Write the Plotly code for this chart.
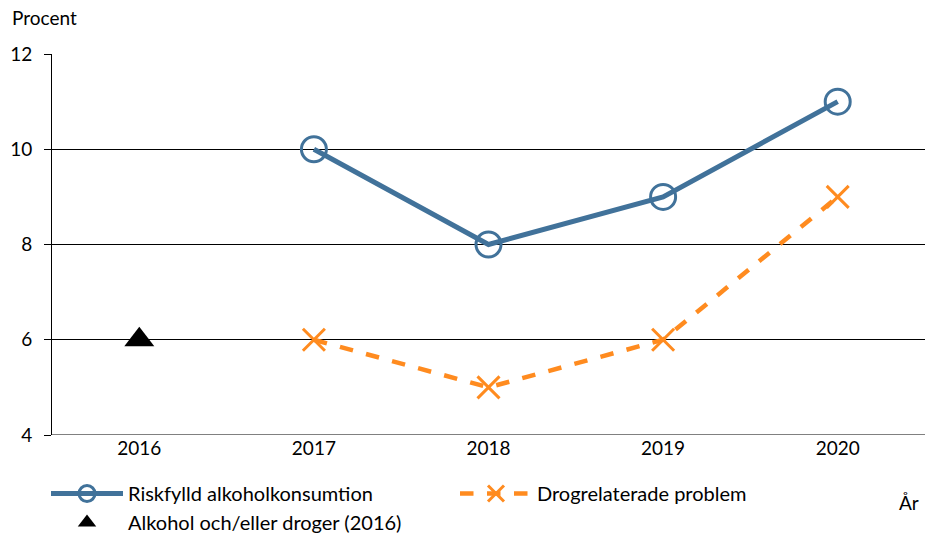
import plotly.graph_objects as go

years = ["2016", "2017", "2018", "2019", "2020"]
risk_years = ["2017", "2018", "2019", "2020"]
risk_vals = [10, 8, 9, 11]
drog_years = ["2017", "2018", "2019", "2020"]
drog_vals = [6, 5, 6, 9]
alk_years = ["2016"]
alk_vals = [6]

blue = "#41729A"
orange = "#FF8B1F"
font = "Lato, 'Open Sans', sans-serif"
fs = 19

fig = go.Figure()
fig.add_trace(go.Scatter(
    x=risk_years, y=risk_vals, name="Riskfylld alkoholkonsumtion",
    mode="lines+markers",
    line=dict(color=blue, width=5),
    marker=dict(symbol="circle-open", size=25, color=blue, line=dict(width=3, color=blue)),
))
fig.add_trace(go.Scatter(
    x=drog_years, y=drog_vals, name="Drogrelaterade problem",
    mode="lines+markers",
    line=dict(color=orange, width=4.5, dash="dash"),
    marker=dict(symbol="x-thin-open", size=22, color=orange, line=dict(width=3, color=orange)),
))
fig.add_trace(go.Scatter(
    x=alk_years, y=alk_vals, name="Alkohol och/eller droger (2016)",
    mode="markers",
    marker=dict(symbol="triangle-up", size=26, color="black"),
))

L, R, T, B = 52, 0, 54, 103
pw = 925 - L - R
ph = 538 - T - B

fig.update_layout(
    width=925, height=538,
    margin=dict(l=L, r=R, t=T, b=B, autoexpand=False),
    paper_bgcolor="white", plot_bgcolor="white",
    font=dict(family=font, size=fs, color="black"),
    xaxis=dict(
        type="category", categoryorder="array", categoryarray=years,
        range=[-0.5, 4.5], showgrid=False, showline=False, ticks="",
        tickfont=dict(size=fs), automargin=False,
    ),
    yaxis=dict(
        range=[4, 12], dtick=2, showgrid=True, gridcolor="black", gridwidth=1,
        showline=True, linecolor="black", linewidth=1,
        ticks="outside", ticklen=7, tickcolor="black", ticklabelstandoff=8,
        zeroline=False, tickfont=dict(size=fs), automargin=False,
    ),
    legend=dict(
        orientation="h", x=-6 / pw, y=(538 - B - 474) / ph, xanchor="left", yanchor="top",
        entrywidth=322, entrywidthmode="pixels",
        font=dict(size=20), itemwidth=72, tracegroupgap=0,
        bgcolor="rgba(0,0,0,0)",
    ),
    showlegend=True,
)
fig.layout.annotations = [
    dict(text="Procent", x=(10 - L) / pw, y=(538 - B - 17) / ph, xref="paper", yref="paper",
         xanchor="left", yanchor="middle", showarrow=False, font=dict(size=fs)),
    dict(text="År", x=(921 - L) / pw, y=(538 - B - 502) / ph, xref="paper", yref="paper",
         xanchor="right", yanchor="middle", showarrow=False, font=dict(size=fs)),
]
fig.add_hline(y=4, line=dict(color="black", width=1))

fig.write_html("out.html", config={"displayModeBar": False},
               post_script="document.body.style.margin='0';document.body.style.overflow='hidden';")
